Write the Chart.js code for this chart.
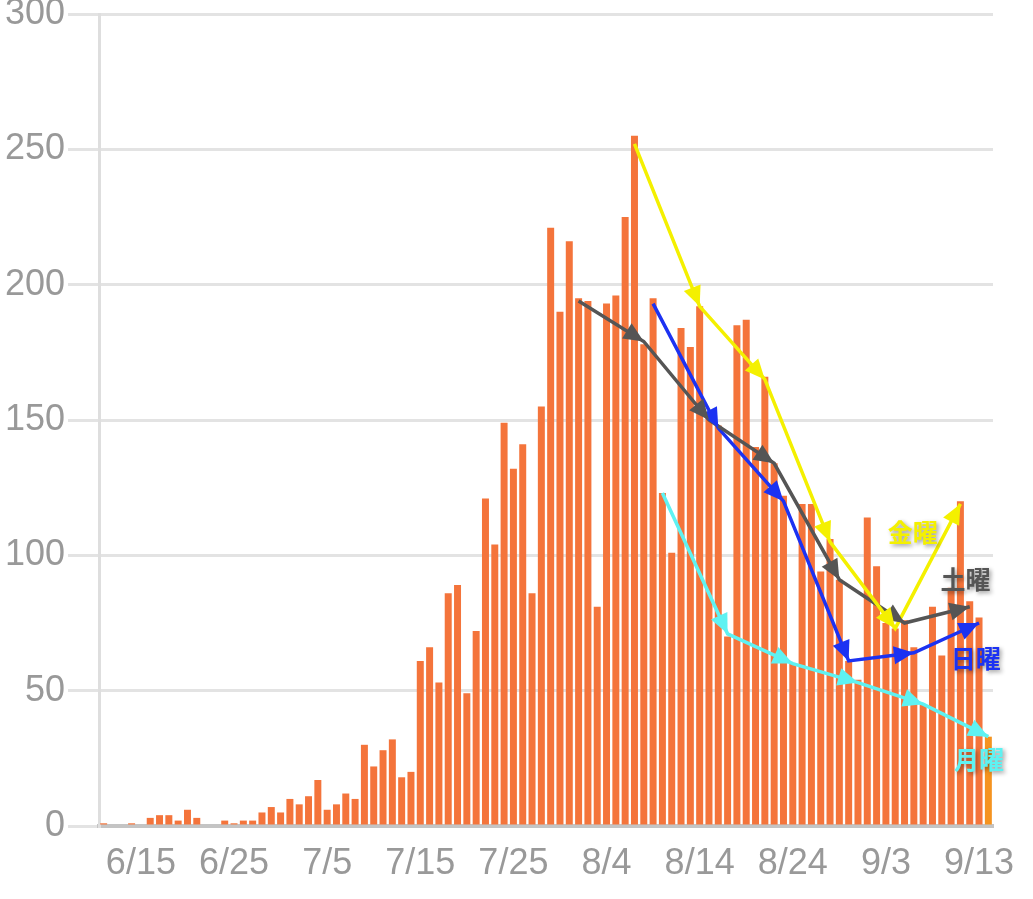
<!DOCTYPE html>
<html>
<head>
<meta charset="utf-8">
<script src="https://cdn.jsdelivr.net/npm/chart.js@4.4.1/dist/chart.umd.min.js"></script>
<style>
  html, body { margin: 0; padding: 0; background: #fff; }
  #wrap { width: 1033px; height: 899px; }
</style>
</head>
<body>
<div id="wrap"><canvas id="chart" width="1033" height="899"></canvas></div>
<script>
// 日別 新規陽性者数 (6/11 ~ 9/14)
const startDate = new Date(2020, 5, 11);
const dates = [];
for (let i = 0; i < 96; i++) {
    const d = new Date(startDate);
    d.setDate(d.getDate() + i);
    dates.push(`${d.getMonth() + 1}/${d.getDate()}`);
}

const cases = [
    1, 0, 0, 1, 0, 3, 4, 4, 2, 6, 3, 0, 0, 2, 1, 2, 2, 5, 7, 5,          // 6/11 - 6/30
    10, 8, 11, 17, 6, 8, 12, 10, 30, 22, 28, 32, 18, 20, 61, 66, 53, 86, 89, 49,
    72, 121, 104, 149, 132, 141, 86, 155, 221, 190, 216,                  // 7/1 - 7/31
    195, 194, 81, 193, 196, 225, 255, 178, 195, 123, 101, 184, 177, 192, 152, 148,
    70, 185, 187, 140, 166, 134, 122, 60, 119, 119, 94, 106, 91, 61, 54, // 8/1 - 8/31
    114, 96, 75, 73, 76, 66, 45, 81, 63, 88, 120, 83, 77, 33             // 9/1 - 9/14
];

const tickLabels = ['6/15', '6/25', '7/5', '7/15', '7/25', '8/4', '8/14', '8/24', '9/3', '9/13'];

// 曜日ごとの推移 (矢印)
const friDates = ['8/7', '8/14', '8/21', '8/28', '9/4', '9/11'];
const friVals  = [252, 192, 165, 105, 73, 119];
const satDates = ['8/1', '8/8', '8/15', '8/22', '8/29', '9/5', '9/12'];
const satVals  = [194, 179, 150, 134, 91, 75, 81];
const sunDates = ['8/9', '8/16', '8/23', '8/30', '9/6', '9/13'];
const sunVals  = [193, 147, 120, 61, 64, 75];
const monDates = ['8/10', '8/17', '8/24', '8/31', '9/7', '9/14'];
const monVals  = [123, 71, 60, 53, 45, 33];

function toSeries(ds, vs) {
    const arr = dates.map(() => null);
    ds.forEach((d, i) => { arr[dates.indexOf(d)] = vs[i]; });
    return arr;
}

const barColors = cases.map((v, i) => i === cases.length - 1 ? '#f5931f' : '#f4743b');

// 曜日ラベル
const dayLabels = [
    { text: '金曜', color: '#f4f000', date: '9/6',  dx: -1, val: 108.5 },
    { text: '土曜', color: '#555555', date: '9/11', dx: 5,  val: 91 },
    { text: '日曜', color: '#1c32f2', date: '9/12', dx: 6,  val: 62 },
    { text: '月曜', color: '#5ef2f2', date: '9/13', dx: 0,  val: 24.5 }
];

const arrowPlugin = {
    id: 'arrows',
    afterDatasetsDraw(chart) {
        const ctx = chart.ctx;
        chart.data.datasets.forEach((ds, di) => {
            if (ds.type !== 'line') return;
            const pts = chart.getDatasetMeta(di).data.filter((p, i) => ds.data[i] !== null);
            ctx.save();
            ctx.fillStyle = ds.borderColor;
            for (let i = 1; i < pts.length; i++) {
                const a = pts[i - 1], b = pts[i];
                const ang = Math.atan2(b.y - a.y, b.x - a.x);
                const L = 20, W = 9;
                ctx.beginPath();
                ctx.moveTo(b.x, b.y);
                ctx.lineTo(b.x - L * Math.cos(ang) + W * Math.sin(ang), b.y - L * Math.sin(ang) - W * Math.cos(ang));
                ctx.lineTo(b.x - L * Math.cos(ang) - W * Math.sin(ang), b.y - L * Math.sin(ang) + W * Math.cos(ang));
                ctx.closePath();
                ctx.fill();
            }
            ctx.restore();
        });

        const xs = chart.scales.x, ys = chart.scales.y;
        ctx.save();
        ctx.font = 'bold 25px "Noto Sans CJK JP"';
        ctx.textAlign = 'center';
        ctx.textBaseline = 'middle';
        ctx.shadowColor = 'rgba(0,0,0,0.4)';
        ctx.shadowBlur = 4;
        ctx.shadowOffsetX = 2;
        ctx.shadowOffsetY = 2;
        dayLabels.forEach(l => {
            ctx.fillStyle = l.color;
            ctx.fillText(l.text, xs.getPixelForValue(dates.indexOf(l.date)) + l.dx, ys.getPixelForValue(l.val));
        });
        ctx.restore();
    }
};

function lineSet(label, ds, vs, color, order) {
    return {
        type: 'line',
        label: label,
        data: toSeries(ds, vs),
        borderColor: color,
        backgroundColor: color,
        borderWidth: 3.5,
        pointRadius: 0,
        spanGaps: true,
        tension: 0,
        order: order
    };
}

const ctx = document.getElementById('chart').getContext('2d');
const chart = new Chart(ctx, {
    data: {
        labels: dates,
        datasets: [
            lineSet('月曜', monDates, monVals, '#5ef2f2', 3),
            lineSet('日曜', sunDates, sunVals, '#1c32f2', 2),
            lineSet('土曜', satDates, satVals, '#555555', 1),
            lineSet('金曜', friDates, friVals, '#f4f000', 0),
            {
                type: 'bar',
                label: '陽性者数',
                data: cases,
                backgroundColor: barColors,
                barPercentage: 0.75,
                categoryPercentage: 1.0,
                order: 10
            }
        ]
    },
    options: {
        responsive: false,
        animation: false,
        devicePixelRatio: 1,
        layout: { padding: { top: 14, right: 40, bottom: 0, left: 0 } },
        plugins: {
            legend: { display: false },
            tooltip: { enabled: false }
        },
        scales: {
            x: {
                type: 'category',
                offset: true,
                grid: { display: false, drawTicks: false },
                border: { display: true, color: '#c4c4c4', width: 4 },
                ticks: {
                    autoSkip: false,
                    minRotation: 0,
                    maxRotation: 0,
                    padding: 16,
                    color: '#999999',
                    font: { family: '"Liberation Sans", Arial, sans-serif', size: 36 },
                    callback: function(v, i) {
                        return tickLabels.includes(dates[i]) ? dates[i] : '';
                    }
                },
                afterFit(s) {
                    s.height = 73;
                    s.paddingLeft = 0;
                    s.paddingRight = 0;
                }
            },
            y: {
                min: 0,
                max: 300,
                grid: { color: '#e3e3e3', lineWidth: 3, tickLength: 31 },
                border: { display: true, color: '#dedede', width: 3 },
                ticks: {
                    stepSize: 50,
                    padding: 3,
                    color: '#999999',
                    font: { family: '"Liberation Sans", Arial, sans-serif', size: 36 }
                },
                afterFit(s) {
                    s.width = 99;
                    s.paddingTop = 0;
                    s.paddingBottom = 0;
                }
            }
        }
    },
    plugins: [arrowPlugin]
});
</script>
</body>
</html>
